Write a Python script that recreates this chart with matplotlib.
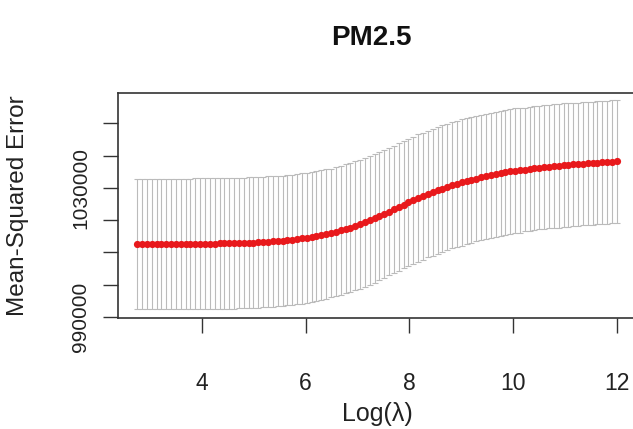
import numpy as np
import matplotlib.pyplot as plt

# cross-validation curve (cv.glmnet style), values in thousands
log_lambda_start = 2.75
log_lambda_end = 12.0
n_lambda = 100

cvm_k = [
    1012.6, 1012.6, 1012.6, 1012.6, 1012.6, 1012.6, 1012.6, 1012.6, 1012.6, 1012.6,
    1012.6, 1012.6, 1012.7, 1012.7, 1012.7, 1012.7, 1012.7, 1012.8, 1012.8, 1012.8,
    1012.8, 1012.9, 1012.9, 1013.0, 1013.0, 1013.1, 1013.2, 1013.3, 1013.4, 1013.5,
    1013.6, 1013.8, 1013.9, 1014.1, 1014.3, 1014.5, 1014.8, 1015.1, 1015.4, 1015.7,
    1016.0, 1016.4, 1016.8, 1017.3, 1017.7, 1018.2, 1018.7, 1019.3, 1019.9, 1020.6,
    1021.3, 1021.9, 1022.6, 1023.3, 1024.0, 1024.8, 1025.5, 1026.1, 1026.8, 1027.4,
    1028.0, 1028.6, 1029.2, 1029.8, 1030.3, 1030.8, 1031.3, 1031.7, 1032.1, 1032.5,
    1032.9, 1033.3, 1033.6, 1033.9, 1034.2, 1034.5, 1034.8, 1035.1, 1035.3, 1035.5,
    1035.7, 1035.9, 1036.1, 1036.3, 1036.5, 1036.6, 1036.8, 1036.9, 1037.1, 1037.2,
    1037.3, 1037.4, 1037.5, 1037.6, 1037.7, 1037.8, 1037.9, 1038.0, 1038.1, 1038.2,
]

cvsd_k = [
    20.3, 20.3, 20.3, 20.3, 20.3, 20.3, 20.3, 20.3, 20.3, 20.3,
    20.3, 20.3, 20.3, 20.3, 20.3, 20.3, 20.3, 20.3, 20.3, 20.3,
    20.3, 20.3, 20.3, 20.3, 20.3, 20.3, 20.3, 20.3, 20.3, 20.3,
    20.2, 20.2, 20.2, 20.2, 20.2, 20.2, 20.2, 20.2, 20.2, 20.2,
    20.0, 20.0, 20.0, 20.0, 20.0, 20.0, 20.0, 20.0, 20.0, 20.0,
    19.8, 19.8, 19.8, 19.8, 19.8, 19.8, 19.8, 19.8, 19.8, 19.8,
    19.6, 19.6, 19.6, 19.6, 19.6, 19.6, 19.6, 19.6, 19.6, 19.6,
    19.4, 19.4, 19.4, 19.4, 19.4, 19.4, 19.4, 19.4, 19.4, 19.4,
    19.2, 19.2, 19.2, 19.2, 19.2, 19.2, 19.2, 19.2, 19.2, 19.2,
    19.1, 19.1, 19.1, 19.1, 19.1, 19.1, 19.1, 19.1, 19.1, 19.1,
]

x_ticks = [4, 6, 8, 10, 12]
y_ticks = [990000, 1000000, 1010000, 1020000, 1030000, 1040000, 1050000]
y_ticklabels = ['990000', '', '', '', '1030000', '', '']

title = 'PM2.5'
xlabel = 'Log(\u03bb)'
ylabel = 'Mean-Squared Error'

plt.rcParams['font.family'] = ['Liberation Sans', 'DejaVu Sans']

loglam = np.linspace(log_lambda_start, log_lambda_end, n_lambda)
cvm = np.array(cvm_k) * 1000
cvsd = np.array(cvsd_k) * 1000

fig = plt.figure(figsize=(6.33, 4.29), dpi=100)
ax = fig.add_axes([118 / 633, 1 - 318 / 429, (636 - 118) / 633, (318 - 93) / 429])

ax.errorbar(loglam, cvm, yerr=cvsd, fmt='none', ecolor='#bbbbbb',
            elinewidth=0.8, capsize=1.9, capthick=0.8, zorder=1)
ax.plot(loglam, cvm, 'o', color='#e8191c', markersize=5.2,
        markeredgewidth=0, zorder=2)

ax.set_xlim(2.38, 12.37)
ax.set_ylim(989600, 1059470)

ax.set_xticks(x_ticks)
ax.set_xticklabels([str(t) for t in x_ticks])
ax.set_yticks(y_ticks)
ax.set_yticklabels(y_ticklabels, rotation=90, va='center')

ax.tick_params(axis='both', direction='out', length=11, width=1.0,
               color='#333333', labelcolor='#222222')
ax.tick_params(axis='x', pad=28, labelsize=16.5)
ax.tick_params(axis='y', pad=9, labelsize=15)

for s in ax.spines.values():
    s.set_color('#333333')
    s.set_linewidth(1.2)

ax.set_xlabel(xlabel, fontsize=18, color='#222222')
ax.xaxis.set_label_coords(0.5, -(402 - 318) / 225)
ax.set_ylabel(ylabel, fontsize=17.5, color='#222222')
ax.yaxis.set_label_coords(-(118 - 29) / 518, 0.5)
fig.text(0.587, 1 - 38 / 429, title, fontsize=20, fontweight='bold',
         ha='center', va='center', color='#111111')

fig.savefig('out.png', dpi=100)
